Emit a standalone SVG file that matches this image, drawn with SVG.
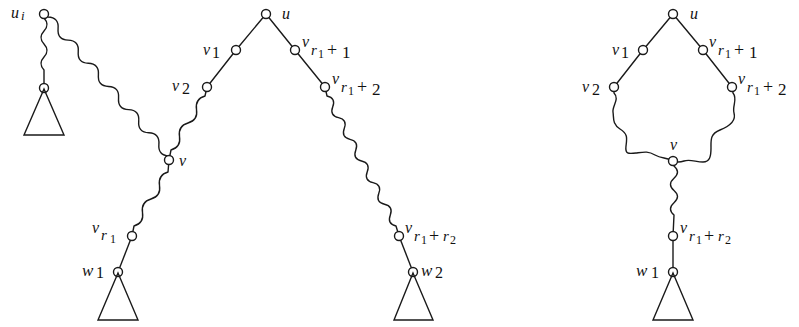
<svg xmlns="http://www.w3.org/2000/svg" width="799" height="327" viewBox="0 0 799 327">
<style>
.e{fill:none;stroke:#1a1a1a;stroke-width:1.4;stroke-linejoin:round}
.n{fill:#fff;stroke:#1a1a1a;stroke-width:1.4}
.tri{fill:none;stroke:#1a1a1a;stroke-width:1.4;stroke-linejoin:miter}
text{font-family:"Liberation Serif","DejaVu Serif",serif;fill:#111}
.m{font-style:italic;font-size:16px}
.w{font-style:italic;font-size:17px}
.r{font-style:italic;font-size:15px}
.d{font-size:16px}
.dd{font-size:12px}
.p{font-size:18px}
.k{font-size:17px}
</style>
<rect width="799" height="327" fill="#fff"/>
<g id="connectors">
  <path class="e" d="M44 14 L44 18 q6 6.5 0 13 t0 13 t0 13 t0 13 L44 88"/>
  <path class="e" d="M44 14 L48 17 q11.08 0.53 10.08 11.58 t10.08 11.58 t10.08 11.58 t10.08 11.58 t10.08 11.58 t10.08 11.58 t10.08 11.58 t10.08 11.58 t10.08 11.58 t10.08 11.58 t10.08 11.58 t10.08 11.58 L169 160"/>
  <path class="e" d="M266 14 L236 50 L207 87"/>
  <path class="e" d="M207 87 L205 96 q-10.17 3.02 -8.5 13.5 t-8.5 13.5 t-8.5 13.5 t-8.5 13.5 L169 160"/>
  <path class="e" d="M169 160 L168 172 q-10.17 3.02 -8.5 13.5 t-8.5 13.5 t-8.5 13.5 t-8.5 13.5 L132 236"/>
  <path class="e" d="M132 236 L118 272"/>
  <path class="e" d="M266 14 L295 50 L325 87"/>
  <path class="e" d="M325 87 L327 96 q9.06 2.14 5.75 10.83 t5.75 10.83 t5.75 10.83 t5.75 10.83 t5.75 10.83 t5.75 10.83 t5.75 10.83 t5.75 10.83 t5.75 10.83 t5.75 10.83 t5.75 10.83 t5.75 10.83 L399 236"/>
  <path class="e" d="M399 236 L413 272"/>
  <path class="e" d="M673 14 L643 50 L614 87"/>
  <path class="e" d="M673 14 L703 50 L732 87"/>
  <path class="e" d="M614 87 L614 93 C620 99 612 106 613 112 S612 124 620 129 S627 138 626 146 S628 154 636 153 S648 151 655 155 S666 157 673 161"/>
  <path class="e" d="M732 87 L733 93 C738 99 732 106 734 113 S730 126 720 130 S711 140 711 148 S710 162 703 162 S690 159 684 161 S676 162 673 161"/>
  <path class="e" d="M673 161 L674 166 q7 6.12 0 12.25 t0 12.25 t0 12.25 t0 12.25 L673 236"/>
  <path class="e" d="M673 236 L673 272"/>
</g>
<g id="node-ui"><circle class="n" cx="44" cy="14" r="4.5"/><text class="m" x="11" y="18">u</text><text style="font-style:italic;font-size:13px" x="21" y="20">i</text></g>
<g id="node-ui-sub"><circle class="n" cx="44" cy="88" r="4.5"/><polygon class="tri" points="44,89 24,135 64,135"/></g>
<g id="node-u"><circle class="n" cx="266" cy="14" r="4.5"/><text class="m" x="282" y="19">u</text></g>
<g id="node-v1"><circle class="n" cx="236" cy="50" r="4.5"/><text class="m" x="203" y="55">v</text><text class="d" x="212" y="58">1</text></g>
<g id="node-v2"><circle class="n" cx="207" cy="87" r="4.5"/><text class="m" x="172" y="91">v</text><text class="d" x="182" y="94">2</text></g>
<g id="node-v"><circle class="n" cx="169" cy="160" r="4.5"/><text class="m" x="179" y="166">v</text></g>
<g id="node-vr1"><circle class="n" cx="132" cy="236" r="4.5"/><text class="m" x="92" y="233">v</text><text class="r" x="101" y="240">r</text><text class="dd" x="110" y="243">1</text></g>
<g id="node-w1"><circle class="n" cx="118" cy="272" r="4.5"/><polygon class="tri" points="118,273 98,320 138,320"/><text class="w" x="82" y="276">w</text><text class="d" x="96" y="278">1</text></g>
<g id="node-vr1p1"><circle class="n" cx="295" cy="50" r="4.5"/><text class="m" x="302" y="47">v</text><text class="r" x="311" y="55">r</text><text class="dd" x="318" y="58">1</text><text class="p" x="327" y="56">+</text><text class="k" x="342" y="58">1</text></g>
<g id="node-vr1p2"><circle class="n" cx="325" cy="87" r="4.5"/><text class="m" x="332" y="84">v</text><text class="r" x="341" y="92">r</text><text class="dd" x="348" y="95">1</text><text class="p" x="357" y="93">+</text><text class="k" x="372" y="95">2</text></g>
<g id="node-vr1pr2"><circle class="n" cx="399" cy="236" r="4.5"/><text class="m" x="405" y="233">v</text><text class="r" x="414" y="241">r</text><text class="dd" x="421" y="244">1</text><text class="p" x="429" y="242">+</text><text class="r" x="443" y="241">r</text><text class="dd" x="450" y="244">2</text></g>
<g id="node-w2"><circle class="n" cx="413" cy="272" r="4.5"/><polygon class="tri" points="413,273 394,320 433,320"/><text class="w" x="421" y="276">w</text><text class="d" x="435" y="278">2</text></g>
<g id="r-node-u"><circle class="n" cx="673" cy="14" r="4.5"/><text class="m" x="690" y="19">u</text></g>
<g id="r-node-v1"><circle class="n" cx="643" cy="50" r="4.5"/><text class="m" x="612" y="55">v</text><text class="d" x="621" y="58">1</text></g>
<g id="r-node-v2"><circle class="n" cx="614" cy="87" r="4.5"/><text class="m" x="582" y="92">v</text><text class="d" x="592" y="95">2</text></g>
<g id="r-node-vr1p1"><circle class="n" cx="703" cy="50" r="4.5"/><text class="m" x="709" y="47">v</text><text class="r" x="718" y="55">r</text><text class="dd" x="725" y="58">1</text><text class="p" x="734" y="56">+</text><text class="k" x="749" y="58">1</text></g>
<g id="r-node-vr1p2"><circle class="n" cx="732" cy="87" r="4.5"/><text class="m" x="738" y="84">v</text><text class="r" x="747" y="92">r</text><text class="dd" x="754" y="95">1</text><text class="p" x="763" y="93">+</text><text class="k" x="778" y="95">2</text></g>
<g id="r-node-v"><circle class="n" cx="673" cy="161" r="4.5"/><text class="m" x="670" y="150">v</text></g>
<g id="r-node-vr1pr2"><circle class="n" cx="673" cy="236" r="4.5"/><text class="m" x="680" y="233">v</text><text class="r" x="689" y="241">r</text><text class="dd" x="696" y="244">1</text><text class="p" x="704" y="242">+</text><text class="r" x="718" y="241">r</text><text class="dd" x="725" y="244">2</text></g>
<g id="r-node-w1"><circle class="n" cx="673" cy="272" r="4.5"/><polygon class="tri" points="673,273 653,320 693,320"/><text class="w" x="636" y="276">w</text><text class="d" x="651" y="278">1</text></g>
</svg>
